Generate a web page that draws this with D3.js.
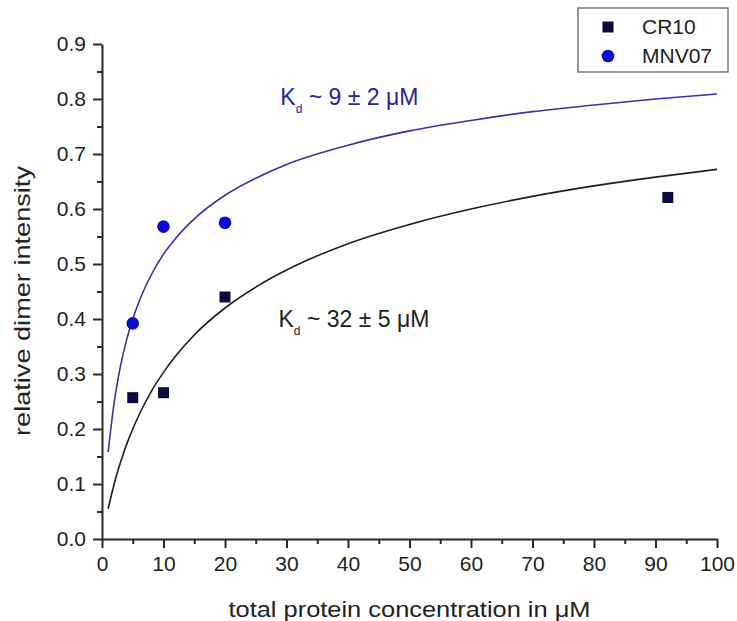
<!DOCTYPE html>
<html lang="en">
  <head>
    <meta charset="utf-8">
    <title>Relative dimer intensity</title>
    <style>
      body { margin: 0; background: #ffffff; }
      .axis-title { font-family: "Liberation Sans", Arial, sans-serif; font-size: 22px; fill: #222; }
      .legend-text { font-family: "Liberation Sans", Arial, sans-serif; font-size: 21px; fill: #222; }
      .kd { font-family: "Liberation Sans", Arial, sans-serif; font-size: 23px; }
    </style>
    <script src="https://cdn.jsdelivr.net/npm/d3@7"></script>
  </head>
  <body>
    <div id="chart"></div>
    <script>
      // ---------------- data ----------------
      var cr10X = [5, 10, 20, 92];
      var cr10Y = [0.257, 0.266, 0.44, 0.621];

      var mnvX = [5, 10, 20];
      var mnvY = [0.392, 0.568, 0.575];

      // fitted curves
      var fitX = [1, 2, 3, 4, 5, 6, 8, 10, 12, 15, 20, 25, 30, 40, 50, 60, 70, 80, 90, 100];
      var cr10FitY = [0.055, 0.101, 0.139, 0.172, 0.200, 0.225, 0.268, 0.303, 0.333, 0.371, 0.420,
                      0.458, 0.489, 0.537, 0.572, 0.600, 0.623, 0.642, 0.658, 0.672];
      var mnvFitY = [0.158, 0.250, 0.314, 0.362, 0.400, 0.431, 0.480, 0.518, 0.547, 0.582, 0.625,
                     0.656, 0.681, 0.716, 0.742, 0.761, 0.777, 0.789, 0.800, 0.809];

      var xTicks = [0, 10, 20, 30, 40, 50, 60, 70, 80, 90, 100];
      var xMinor = [5, 15, 25, 35, 45, 55, 65, 75, 85, 95];
      var yTicks = [0.0, 0.1, 0.2, 0.3, 0.4, 0.5, 0.6, 0.7, 0.8, 0.9];
      var yMinor = [0.05, 0.15, 0.25, 0.35, 0.45, 0.55, 0.65, 0.75, 0.85];

      var seriesNames = ['CR10', 'MNV07'];
      var kdLabels = [
        {x: 29, y: 0.79, value: ' ~ 9 \u00b1 2 \u03bcM', color: '#2525a0'},
        {x: 28.7, y: 0.386, value: ' ~ 32 \u00b1 5 \u03bcM', color: '#222222'}
      ];

      // ---------------- layout ----------------
      var width = 737, height = 621;
      var margin = {top: 44, right: 20, bottom: 82, left: 102};

      var svg = d3.select('#chart').append('svg')
        .attr('width', width)
        .attr('height', height);

      var x = d3.scaleLinear().domain([0, 100]).range([margin.left, 717]);
      var y = d3.scaleLinear().domain([0, 0.9]).range([539, margin.top]);

      // ---------------- axes ----------------
      var fmtY = d3.format('.1f');

      svg.append('g')
        .attr('transform', 'translate(0,' + y(0) + ')')
        .call(d3.axisBottom(x).tickValues(xTicks).tickSize(9).tickPadding(8).tickSizeOuter(0));

      svg.append('g')
        .attr('transform', 'translate(0,' + y(0) + ')')
        .call(d3.axisBottom(x).tickValues(xMinor).tickSize(5).tickFormat('').tickSizeOuter(0))
        .select('.domain').remove();

      svg.append('g')
        .attr('transform', 'translate(' + x(0) + ',0)')
        .call(d3.axisLeft(y).tickValues(yTicks).tickSize(9).tickPadding(7).tickFormat(fmtY).tickSizeOuter(0));

      svg.append('g')
        .attr('transform', 'translate(' + x(0) + ',0)')
        .call(d3.axisLeft(y).tickValues(yMinor).tickSize(5).tickFormat('').tickSizeOuter(0))
        .select('.domain').remove();

      svg.selectAll('.domain').attr('stroke', '#2a2a2a').attr('stroke-width', 2);
      svg.selectAll('.tick line').attr('stroke', '#2a2a2a').attr('stroke-width', 2);
      svg.selectAll('.tick text')
        .attr('font-size', '21px')
        .attr('font-family', '"Liberation Sans", Arial, sans-serif')
        .attr('fill', '#222');

      svg.append('text')
        .attr('class', 'axis-title')
        .attr('x', (x(0) + x(100)) / 2)
        .attr('y', 617)
        .attr('text-anchor', 'middle')
        .attr('textLength', 362)
        .attr('lengthAdjust', 'spacingAndGlyphs')
        .text('total protein concentration in \u03bcM');

      svg.append('text')
        .attr('class', 'axis-title')
        .attr('transform', 'translate(30,301) rotate(-90)')
        .attr('text-anchor', 'middle')
        .attr('textLength', 270)
        .attr('lengthAdjust', 'spacingAndGlyphs')
        .text('relative dimer intensity');

      // ---------------- fit curves ----------------
      var line = d3.line()
        .x(function(d) { return x(d[0]); })
        .y(function(d) { return y(d[1]); })
        .curve(d3.curveMonotoneX);

      svg.append('path')
        .datum(d3.zip(fitX, mnvFitY))
        .attr('d', line)
        .attr('fill', 'none')
        .attr('stroke', '#3434a8')
        .attr('stroke-width', 1.6);

      svg.append('path')
        .datum(d3.zip(fitX, cr10FitY))
        .attr('d', line)
        .attr('fill', 'none')
        .attr('stroke', '#1e1e1e')
        .attr('stroke-width', 1.6);

      // ---------------- points ----------------
      var sq = 11;
      svg.selectAll('.sq')
        .data(d3.zip(cr10X, cr10Y))
        .enter().append('rect')
        .attr('class', 'sq')
        .attr('x', function(d) { return x(d[0]) - sq / 2; })
        .attr('y', function(d) { return y(d[1]) - sq / 2; })
        .attr('width', sq)
        .attr('height', sq)
        .attr('fill', '#0c0c3c');

      svg.selectAll('.dot')
        .data(d3.zip(mnvX, mnvY))
        .enter().append('circle')
        .attr('class', 'dot')
        .attr('cx', function(d) { return x(d[0]); })
        .attr('cy', function(d) { return y(d[1]); })
        .attr('r', 6.3)
        .attr('fill', '#0a0ad0');

      // ---------------- Kd labels ----------------
      kdLabels.forEach(function(k) {
        var t = svg.append('text')
          .attr('class', 'kd')
          .attr('x', x(k.x))
          .attr('y', y(k.y))
          .attr('fill', k.color);
        t.append('tspan').text('K');
        t.append('tspan').attr('font-size', '12px').attr('dy', 8).text('d');
        t.append('tspan').attr('dy', -8).text(k.value);
      });

      // ---------------- legend ----------------
      var lg = svg.append('g').attr('transform', 'translate(578,8)');
      lg.append('rect')
        .attr('width', 150)
        .attr('height', 64)
        .attr('fill', '#ffffff')
        .attr('stroke', '#555555')
        .attr('stroke-width', 1.2);

      lg.append('rect')
        .attr('x', 30 - sq / 2)
        .attr('y', 19 - sq / 2)
        .attr('width', sq)
        .attr('height', sq)
        .attr('fill', '#0c0c3c');
      lg.append('circle')
        .attr('cx', 30)
        .attr('cy', 48)
        .attr('r', 6.3)
        .attr('fill', '#0a0ad0');

      lg.selectAll('.legend-text')
        .data(seriesNames)
        .enter().append('text')
        .attr('class', 'legend-text')
        .attr('x', 64)
        .attr('y', function(d, i) { return 26 + i * 29; })
        .text(function(d) { return d; });
    </script>
  </body>
</html>
